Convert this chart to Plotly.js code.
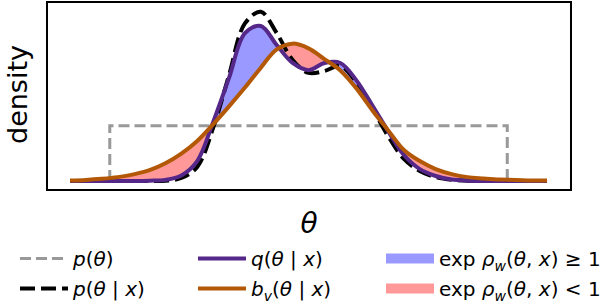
<!DOCTYPE html>
<html><head><meta charset="utf-8">
<script src="https://cdn.plot.ly/plotly-3.0.1.min.js"></script>
<style>html,body{margin:0;padding:0;background:#fff}#chart{width:600px;height:302px}</style>
</head><body><div id="chart"></div>
<script>
// theta grid
const theta = [-3.0,-2.8,-2.6,-2.4,-2.2,-2.0,-1.8,-1.6,-1.4,-1.2,-1.0,-0.8,-0.6,-0.4,-0.2,0.0,
               0.2,0.4,0.6,0.8,1.0,1.2,1.4,1.6,1.8,2.0,2.2,2.4,2.6,2.8,3.0];
// prior p(theta): uniform box
const priorTheta = [-2.5,-2.5,2.5,2.5];
const priorDensity = [0,0.2,0.2,0];
// true posterior p(theta | x)
const posteriorDensity = [0,0,0,0,0,0,0.001,0.011,0.051,0.192,0.383,0.57,0.612,0.535,0.438,0.391,
                          0.398,0.416,0.358,0.264,0.163,0.080,0.036,0.014,0.004,0.001,0,0,0,0,0];
// q(theta | x)
const qDensity = [0,0,0,0,0,0.001,0.004,0.02,0.072,0.213,0.373,0.535,0.561,0.492,0.427,0.401,
                  0.427,0.427,0.365,0.275,0.181,0.094,0.043,0.018,0.005,0.001,0,0,0,0,0];
// b_v(theta | x)
const bDensity = [0.002,0.004,0.008,0.014,0.024,0.039,0.064,0.099,0.145,0.205,0.270,0.338,0.410,0.476,0.497,0.480,
                  0.441,0.400,0.336,0.257,0.184,0.112,0.072,0.043,0.025,0.014,0.009,0.005,0.004,0.002,0.002];
// text labels
const xTitle = '<i>θ</i>';
const yTitle = 'density';
const labelPrior = '<i>p</i>(<i>θ</i>)';
const labelPost = '<i>p</i>(<i>θ</i> | <i>x</i>)';
const labelQ = '<i>q</i>(<i>θ</i> | <i>x</i>)';
const labelB = '<i>b</i><sub><i>v</i></sub>(<i>θ</i> | <i>x</i>)';
const labelGe = 'exp <i>ρ</i><sub><i>w</i></sub>(<i>θ</i>, <i>x</i>) ≥ 1';
const labelLt = 'exp <i>ρ</i><sub><i>w</i></sub>(<i>θ</i>, <i>x</i>) < 1';

const F = 'DejaVu Sans, sans-serif';
const upper = qDensity.map((v,i)=>Math.max(v,bDensity[i]));
const hid = {mode:'lines',line:{width:0,shape:'spline'},showlegend:false,hoverinfo:'skip'};
const BLUE='#9999ff', RED='#ff9999', PURPLE='#542788', ORANGE='#b35806', GRAY='#999999';

const traces = [
  Object.assign({x:theta,y:bDensity},hid),
  Object.assign({x:theta,y:upper,fill:'tonexty',fillcolor:BLUE},hid),
  Object.assign({x:theta,y:qDensity},hid),
  Object.assign({x:theta,y:upper,fill:'tonexty',fillcolor:RED},hid),
  {x:priorTheta,y:priorDensity,mode:'lines',line:{color:GRAY,width:3,dash:'11px,5px'},
   name:labelPrior,legend:'legend',legendgroup:'a'},
  {x:theta,y:posteriorDensity,mode:'lines',line:{color:'#000',width:4,dash:'15px,6px',shape:'spline'},
   name:labelPost,legend:'legend',legendgroup:'b'},
  {x:theta,y:qDensity,mode:'lines',line:{color:PURPLE,width:4,shape:'spline'},
   name:labelQ,legend:'legend2',legendgroup:'c'},
  {x:theta,y:bDensity,mode:'lines',line:{color:ORANGE,width:4,shape:'spline'},
   name:labelB,legend:'legend2',legendgroup:'d'},
  {x:[null],y:[null],mode:'lines',line:{color:BLUE,width:16},name:labelGe,legend:'legend3',legendgroup:'e'},
  {x:[null],y:[null],mode:'lines',line:{color:RED,width:16},name:labelLt,legend:'legend3',legendgroup:'f'}
];

const W=600,H=302,L=48,R=30,T=3,B=113;
const pw=W-L-R, ph=H-T-B;
function px2x(p){return (p-L)/pw;}
function py2y(p){return (H-B-p)/ph;}
const legBase = {xanchor:'left',yanchor:'top',orientation:'v',bgcolor:'rgba(0,0,0,0)',
  font:{family:F,size:20,color:'#000'},tracegroupgap:1,itemwidth:48,traceorder:'grouped'};

const layout = {
  width:W,height:H,margin:{l:L,r:R,t:T,b:B,autoexpand:false},
  paper_bgcolor:'#fff',plot_bgcolor:'#fff',showlegend:true,
  xaxis:{range:[-3.277,3.289],showgrid:false,zeroline:false,showticklabels:false,ticks:'',
    showline:true,mirror:true,linecolor:'#000',linewidth:2,
    title:{text:xTitle,font:{family:F,size:28,color:'#000'},standoff:23}},
  yaxis:{range:[-0.029,0.644],showgrid:false,zeroline:false,showticklabels:false,ticks:'',
    showline:true,mirror:true,linecolor:'#000',linewidth:2},
  annotations:[{text:yTitle,textangle:-90,xref:'paper',yref:'paper',x:px2x(17),y:py2y(95),
    xanchor:'center',yanchor:'middle',showarrow:false,borderpad:0,font:{family:F,size:27,color:'#000'}}],
  legend:Object.assign({x:px2x(15),y:py2y(239)},legBase),
  legend2:Object.assign({x:px2x(193),y:py2y(239)},legBase),
  legend3:Object.assign({x:px2x(381),y:py2y(239)},legBase)
};
Plotly.newPlot('chart',traces,layout,{displayModeBar:false,staticPlot:true});
</script></body></html>
